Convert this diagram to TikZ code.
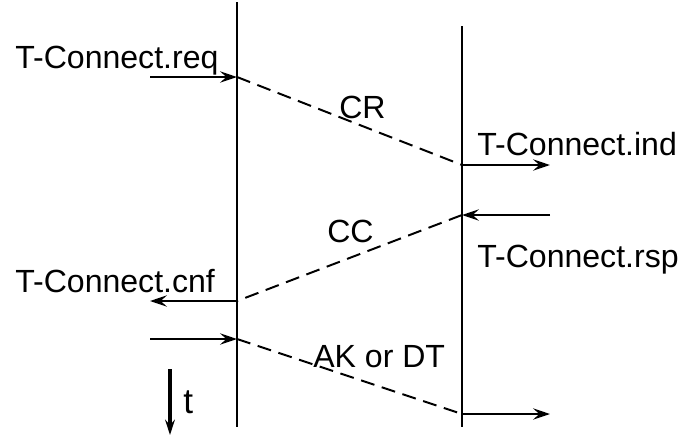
\documentclass[tikz,border=0pt]{standalone}
\usepackage{fontspec}
\setmainfont{Liberation Sans}
\usetikzlibrary{arrows.meta}

\tikzset{
    lifeline/.style={line width=1.9pt},
    primitive/.style={
        line width=1.7pt,
        -{Stealth[length=12pt,width=8pt,inset=4.5pt]}
    },
    tpdu/.style={line width=1.4pt,dash pattern=on 10pt off 5.5pt},
    label text/.style={
        font=\fontsize{22.8}{26}\selectfont,
        inner sep=0pt,anchor=base west
    }
}

\begin{document}
\begin{tikzpicture}[x=0.025cm,y=0.025cm]
        \useasboundingbox (0,0) rectangle (700,-436);
        % the two transport entities
        \coordinate (A top) at (237,-2);
        \coordinate (A bot) at (237,-427);
        \coordinate (B top) at (462,-26);
        \coordinate (B bot) at (462,-427);
        \draw[lifeline] (A top) -- (A bot);
        \draw[lifeline] (B top) -- (B bot);
        % events on the lines
        \foreach \name/\x/\y in {req/237/77,ind/462/165,rsp/462/215,cnf/237/301,dt/237/339,dtind/462/414}
            \coordinate (\name) at (\x,-\y);
        \foreach \name/\x/\y in {req in/150/77,ind out/550/165,rsp in/550/215,cnf out/150/301,dt in/150/339,dt out/550/414}
            \coordinate (\name) at (\x,-\y);
        % primitives
        \draw[primitive] (req in) -- (req);
        \draw[primitive] (ind) -- (ind out);
        \draw[primitive] (rsp in) -- (rsp);
        \draw[primitive] (cnf) -- (cnf out);
        \draw[primitive] (dt in) -- (dt);
        \draw[primitive] (dtind) -- (dt out);
        % tpdus
        \draw[tpdu] (req) -- (ind);
        \draw[tpdu] (rsp) -- (cnf);
        \draw[tpdu] (dt) -- (dtind);
        % labels
        \node[label text] (req text) at (15,-68) {T-Connect.req};
        \node[label text] (ind text) at (477,-155) {T-Connect.ind};
        \node[label text] (rsp text) at (477,-267) {T-Connect.rsp};
        \node[label text] (cnf text) at (15,-292) {T-Connect.cnf};
        \node[label text] (cr) at (339,-118) {CR};
        \node[label text] (cc) at (327,-242) {CC};
        \node[label text] (ak) at (313,-367) {AK or DT};
        % time axis
        \coordinate (t top) at (170,-369);
        \coordinate (t bot) at (170,-435);
        \draw[line width=2.2pt,-{Stealth[length=11pt,width=7pt,inset=4pt]}] (t top) -- (t bot);
        \node[label text,font=\fontsize{25}{28}\selectfont] (t) at (183,-413) {t};
    \end{tikzpicture}
\end{document}
